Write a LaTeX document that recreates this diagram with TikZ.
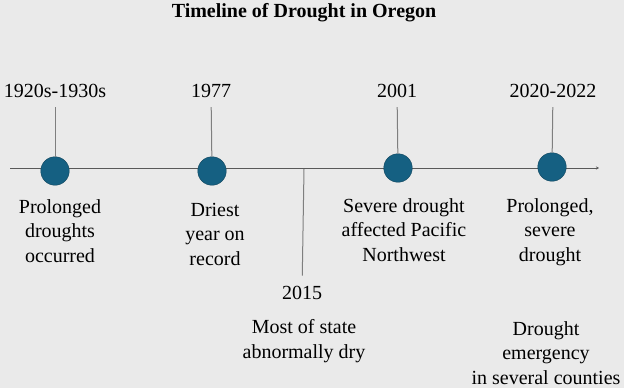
\documentclass[tikz,border=0pt]{standalone}
\usepackage{fontspec}
\setmainfont{Liberation Serif}
\usepackage{tikz}
\usepackage{xcolor}
\definecolor{bggray}{RGB}{234,234,234}
\definecolor{dotblue}{RGB}{21,96,130}
\definecolor{dotedge}{RGB}{14,66,90}
\definecolor{axisgray}{RGB}{89,89,89}
\definecolor{stemgray}{RGB}{127,127,127}
\usetikzlibrary{arrows.meta,positioning}

\begin{document}
\begin{tikzpicture}[x=1pt,y=-1pt,every node/.style={font=\fontsize{20}{24.5}\selectfont,inner sep=0pt,align=center,anchor=base},
    dot/.style={circle,anchor=center,minimum size=28.5pt,fill=dotblue,draw=dotedge,thin},
    year/.style={outer sep=10pt},
    stem/.style={draw=stemgray,line width=1pt}]
            \useasboundingbox[fill=bggray] (0,0) rectangle (624,388);
            \node[font=\fontsize{20}{24}\selectfont\bfseries] (title) at (304,17) {Timeline of Drought in Oregon};
            \coordinate (start) at (10,168);
            \coordinate (end) at (599,168);
            \draw[draw=axisgray,line width=1pt,-{Stealth[length=3pt,width=3pt]}] (start) -- (end);
            \node[year] (y1) at (55,97) {1920s-1930s};
            \node[year] (y2) at (211,97) {1977};
            \node[year] (y4) at (397,97) {2001};
            \node[year] (y5) at (553,97) {2020-2022};
            \node[dot] (d1) at (55,171) {};
            \node[dot] (d2) at (212,171) {};
            \node[dot] (d4) at (398,168) {};
            \node[dot] (d5) at (552,167) {};
            \draw[stem] (y1) -- (d1);
            \draw[stem] (y2) -- (d2);
            \draw[stem] (y4) -- (d4);
            \draw[stem] (y5) -- (d5);
            \coordinate (m3) at (304,169);
            \node[year] (y3) at (302,299) {2015};
            \draw[stem] (m3) -- (y3);
            \node (t1) at (60,262) {Prolonged\\droughts\\occurred};
            \node (t2) at (215,265) {Driest\\year on\\record};
            \node (t3) at (304,358) {Most of state\\abnormally dry};
            \node (t4) at (404,261) {Severe drought\\affected Pacific\\Northwest};
            \node (t5) at (550,261) {Prolonged,\\severe\\drought};
            \node (t6) at (546,384) {Drought\\emergency\\in several counties};
    \end{tikzpicture}
\end{document}
